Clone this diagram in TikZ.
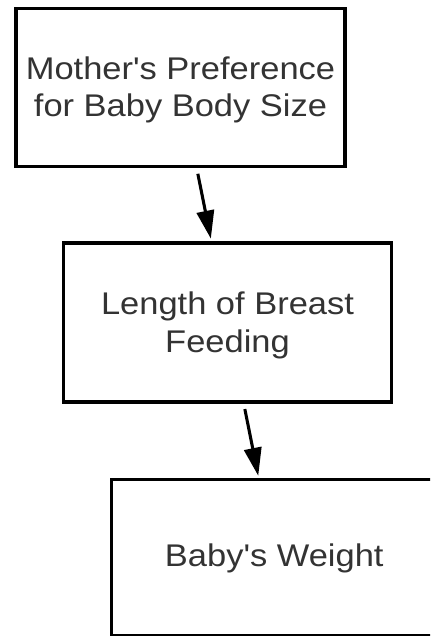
\documentclass[tikz,border=0pt]{standalone}
\usepackage{fontspec}
\usepackage{graphicx}
\setmainfont{Liberation Sans}[Ligatures=TeXOff]
\usetikzlibrary{arrows.meta}
\definecolor{txt}{HTML}{333333}
\newcommand\boxtext[2]{\raisebox{-#1}[\height][\depth]{\scalebox{1.1}[1]{\begin{tabular}{@{}c@{}}#2\end{tabular}}}}
\tikzset{
  box/.style={draw=black, line width=2.6pt, fill=white, align=center, inner sep=0pt,
    text=txt, font=\fontsize{23.5}{28}\selectfont},
  conn/.style={line width=2.3pt, -{Triangle[length=21pt,width=13pt]}}
}
\begin{document}
\begin{tikzpicture}[x=0.75pt,y=-0.75pt]
\useasboundingbox (0,0) rectangle (430,636);
\clip (0,0) rectangle (430,636);
\node[box, minimum width=247pt, minimum height=118.8pt] (a) at (180.5,87.5) {\boxtext{2.3pt}{Mother's Preference\\for Baby Body Size}};
\node[box, minimum width=246pt, minimum height=119.25pt] (b) at (227.5,322.5) {\boxtext{2.6pt}{Length of Breast\\Feeding}};
\node[box, minimum width=244pt, minimum height=117pt] (c) at (274.25,557.5) {\boxtext{1.2pt}{Baby's Weight}};
\draw[conn] ([xshift=13pt,yshift=-4pt]a.south) -- ([xshift=-12.5pt,yshift=2pt]b.north);
\draw[conn] ([xshift=13pt,yshift=-4pt]b.south) -- ([xshift=-12pt,yshift=1.5pt]c.north);
\end{tikzpicture}
\end{document}
